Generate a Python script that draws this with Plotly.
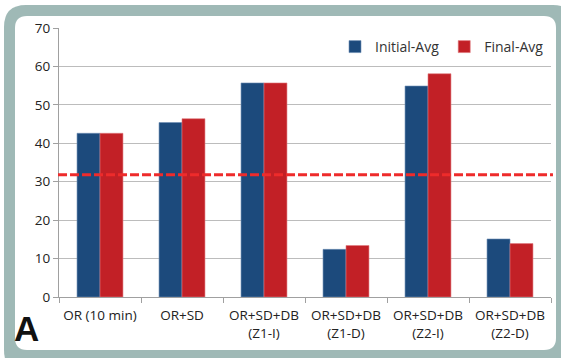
import plotly.graph_objects as go

categories = ["OR (10 min)", "OR+SD", "OR+SD+DB<br>(Z1-I)", "OR+SD+DB<br>(Z1-D)", "OR+SD+DB<br>(Z2-I)", "OR+SD+DB<br>(Z2-D)"]
initial_avg = [42.6, 45.4, 55.7, 12.4, 54.9, 15.1]
final_avg = [42.6, 46.4, 55.7, 13.4, 58.1, 13.9]
threshold = 31.8
y_ticks = [0, 10, 20, 30, 40, 50, 60, 70]

W, H = 561, 358
L, R, T, B = 59, 10, 28, 61
pw, ph = W - L - R, H - T - B

def px(x):
    return (x - L) / pw

def py(y):
    return (H - B - y) / ph

def rounded(x0, y0, x1, y1, r):
    rx, ry = r / pw, r / ph
    X0, X1 = px(x0), px(x1)
    Y0, Y1 = py(y0), py(y1)
    return (f"M {X0+rx},{Y0} L {X1-rx},{Y0} Q {X1},{Y0} {X1},{Y0-ry} "
            f"L {X1},{Y1+ry} Q {X1},{Y1} {X1-rx},{Y1} L {X0+rx},{Y1} "
            f"Q {X0},{Y1} {X0},{Y1+ry} L {X0},{Y0-ry} Q {X0},{Y0} {X0+rx},{Y0} Z")

font = "Open Sans, sans-serif"

fig = go.Figure()
fig.add_trace(go.Bar(x=categories, y=initial_avg, name="Initial-Avg",
                     marker=dict(color="#1c4a7c", line=dict(color="#6f8fb5", width=0.6))))
fig.add_trace(go.Bar(x=categories, y=final_avg, name="Final-Avg",
                     marker=dict(color="#c22026", line=dict(color="#e07b7f", width=0.6))))

shapes = [
    dict(type="path", xref="paper", yref="paper", path=rounded(4, 5, 575, 372, 22),
         fillcolor="#9fb9b6", line=dict(width=0), layer="below"),
    dict(type="path", xref="paper", yref="paper", path=rounded(15, 16, 556, 350, 12),
         fillcolor="white", line=dict(width=0), layer="below"),
    dict(type="line", xref="paper", yref="y", x0=-0.002, x1=1.004, y0=threshold, y1=threshold,
         line=dict(color="#ee2b2b", width=3, dash="9px,3px"), layer="above"),
]

fig.update_layout(
    width=W, height=H,
    margin=dict(l=L, r=R, t=T, b=B, autoexpand=False),
    paper_bgcolor="white",
    plot_bgcolor="rgba(0,0,0,0)",
    barmode="group",
    bargap=0.44,
    bargroupgap=0,
    shapes=shapes,
    font=dict(family=font, size=13, color="#222"),
    legend=dict(orientation="h", x=px(335), y=py(47), xanchor="left", yanchor="middle",
                bgcolor="rgba(0,0,0,0)", font=dict(size=14, color="#333"),
                itemwidth=30, traceorder="normal"),
    annotations=[dict(text="<b>A</b>", xref="paper", yref="paper", x=px(26), y=py(328),
                      showarrow=False, font=dict(family="Liberation Sans, Arial", size=35, color="#111"),
                      xanchor="center", yanchor="middle")],
    xaxis=dict(showline=True, linecolor="#a0a0a0", linewidth=1, ticks="outside",
               tickcolor="#a0a0a0", ticklen=5, tickson="boundaries", showgrid=False,
               tickangle=0, automargin=False, ticklabelstandoff=6,
               tickfont=dict(size=13.5, color="#222"), fixedrange=True),
    yaxis=dict(range=[0, 70], tickvals=y_ticks, showline=True, linecolor="#a0a0a0", linewidth=1,
               ticks="outside", tickcolor="#a0a0a0", ticklen=5, showgrid=True,
               gridcolor="#bcbcbc", gridwidth=1, zeroline=False, automargin=False,
               tickfont=dict(size=13.5, color="#222")),
)

fig.write_html("out.html", config={"displayModeBar": False},
               post_script="document.body.style.margin='0';document.body.style.overflow='hidden';")
